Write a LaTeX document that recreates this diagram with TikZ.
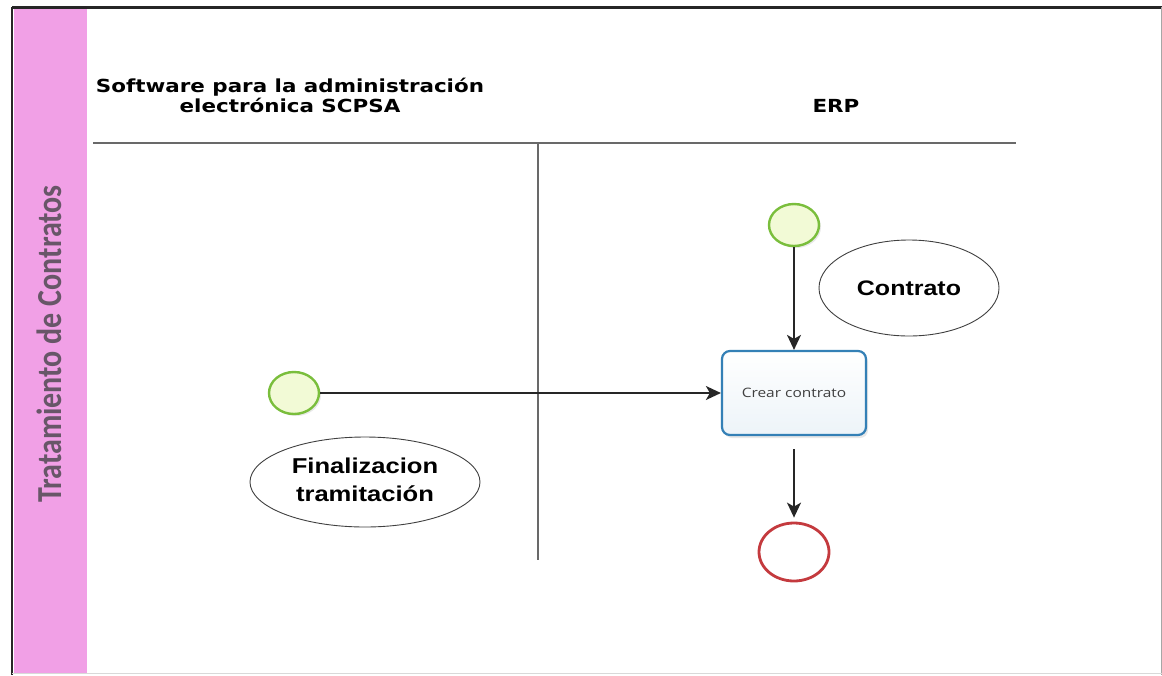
\documentclass[tikz,border=0pt]{standalone}
\usepackage{fontspec}
\setmainfont{DejaVu Sans}
\newfontfamily\arialf{Liberation Sans}
\newfontfamily\calib{Carlito}
\newfontfamily\segoe{Open Sans}
\usetikzlibrary{arrows.meta,shapes.geometric,shadows}
\newcommand{\hs}[1]{\scalebox{1.19}[1]{#1}}
\definecolor{lanepink}{RGB}{241,160,230}
\definecolor{lanetext}{RGB}{104,86,104}
\definecolor{startgreen}{RGB}{122,190,60}
\definecolor{startfill}{RGB}{242,250,214}
\definecolor{taskblue}{RGB}{52,128,182}
\definecolor{endred}{RGB}{196,58,62}
\definecolor{linegray}{RGB}{105,105,105}
\tikzset{
  startev/.style={ellipse, draw=startgreen, line width=2.4pt, fill=startfill,
    minimum width=50pt, minimum height=42pt, inner sep=0pt,
    drop shadow={opacity=0.18, shadow xshift=2pt, shadow yshift=-2pt}},
  endev/.style={ellipse, draw=endred, line width=2.8pt, fill=white,
    minimum width=70pt, minimum height=58pt, inner sep=0pt},
  taskbox/.style={rectangle, rounded corners=8pt, draw=taskblue, line width=2.2pt,
    top color=white, bottom color=taskblue!9, minimum width=144pt, minimum height=84pt,
    inner sep=0pt, drop shadow={opacity=0.18, shadow xshift=2pt, shadow yshift=-3pt}},
  annot/.style={ellipse, draw=black!75, line width=0.9pt, fill=white, inner sep=0pt},
  flow/.style={draw=black!85, line width=1.6pt, -{Stealth[length=15pt,width=14pt,inset=4pt]}},
  lanesep/.style={draw=linegray, line width=1.6pt},
}
\begin{document}
\begin{tikzpicture}[x=1pt,y=-1pt]
\useasboundingbox (0,0) rectangle (1162,675);
\fill[white] (0,0) rectangle (1162,675);
% lane band
\fill[lanepink] (14,9) rectangle (87,673);
% frame
\draw[black!85, line width=3pt] (12,7) -- (1162,7);
\draw[black!85, line width=2.6pt] (12,7) -- (12,675);
\draw[black!35, line width=1pt] (1161,7) -- (1161,675);
\draw[black!15, line width=1pt] (12,673) -- (1162,673);
% lane title
\node[rotate=90, text=lanetext, inner sep=0pt] (lanel) at (49,344)
  {\scalebox{1}[1.17]{\calib\bfseries\fontsize{30}{30}\selectfont Tratamiento de Contratos}};
% headers
\node[inner sep=0pt] (h1) at (290,98)
  {\hs{\fontsize{18}{20}\selectfont\bfseries\begin{tabular}{@{}c@{}}Software para la administración\\electrónica SCPSA\end{tabular}}};
\node[inner sep=0pt] (h2) at (836,106) {\hs{\fontsize{18}{20}\selectfont\bfseries ERP}};
% separators
\coordinate (hl) at (93,143);
\coordinate (hr) at (1016,143);
\coordinate (vt) at (538,143);
\coordinate (vb) at (538,560);
\draw[lanesep] (hl) -- (hr);
\draw[lanesep] (vt) -- (vb);
% elements
\node[startev] (s1) at (794,225) {};
\node[startev] (s2) at (294,393) {};
\node[taskbox] (task) at (794,393)
  {\hs{\segoe\fontsize{13}{15}\selectfont\color{black!75}Crear contrato}};
\node[endev] (e1) at (794,552) {};
\node[annot, minimum width=180pt, minimum height=96pt] (contrato) at (909,288)
  {\hs{\arialf\bfseries\fontsize{21}{24}\selectfont Contrato}};
\node[annot, minimum width=230pt, minimum height=90pt] (final) at (365,482)
  {\hs{\arialf\bfseries\fontsize{21.5}{28}\selectfont\begin{tabular}{@{}c@{}}Finalizacion\\tramitación\end{tabular}}};
% flows
\draw[flow] (s1) -- (task);
\draw[flow] (s2) -- (task);
\draw[flow, shorten <=13pt, shorten >=4pt] (task) -- (e1);
\end{tikzpicture}
\end{document}
